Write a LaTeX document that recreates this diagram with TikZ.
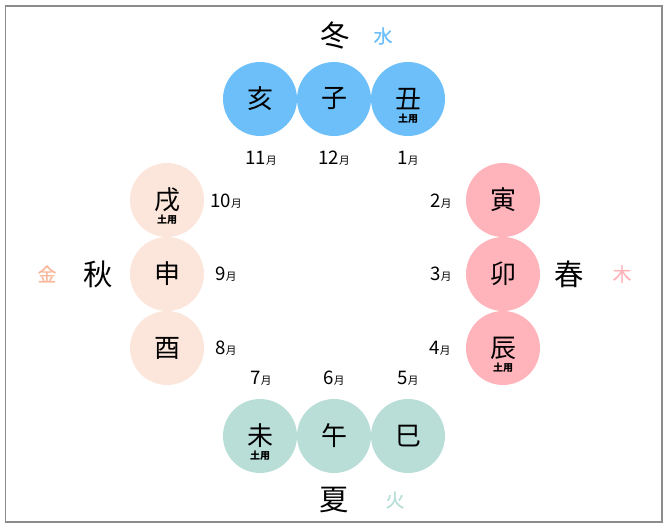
\documentclass[tikz,border=0pt]{standalone}
\usepackage{fontspec}
\newfontfamily\jp{Noto Sans CJK JP}
\newfontfamily\jpel[FakeBold=0.8]{Noto Sans CJK JP}
\definecolor{fuyucol}{HTML}{6CBFF9}
\definecolor{harucol}{HTML}{FFB3BA}
\definecolor{natsucol}{HTML}{B9DED8}
\definecolor{akicol}{HTML}{FCE5DA}
\definecolor{kincol}{HTML}{F9B79C}
\newcommand{\mon}[1]{#1{\fontsize{8pt}{8pt}\selectfont 月}}
\tikzset{
  eto/.style={circle,fill=#1,minimum size=55.5pt,inner sep=0pt,
    font=\jp\fontsize{19.5pt}{20pt}\selectfont},
  doyo/.style={font=\jp\bfseries\fontsize{7.5pt}{8pt}\selectfont,yshift=-14.5pt},
  month/.style={font=\jp\fontsize{14pt}{15pt}\selectfont},
  season/.style={font=\jp\fontsize{22pt}{23pt}\selectfont},
  elem/.style={text=#1,font=\jpel\fontsize{14pt}{15pt}\selectfont}
}
\begin{document}
\begin{tikzpicture}[x=0.75pt,y=-0.75pt]
  \useasboundingbox (0,0) rectangle (670,527);
  \draw[color=gray!90,line width=1.2pt] (5.5,6) rectangle (662,522);
  \draw
    (260,99) node[eto=fuyucol] (i){亥}
    (334,99) node[eto=fuyucol] (ne){子}
    (408,99) node[eto=fuyucol] (ushi){丑}
    (503,200) node[eto=harucol] (tora){寅}
    (503,274) node[eto=harucol] (u){卯}
    (503,348) node[eto=harucol] (tatsu){辰}
    (408,436) node[eto=natsucol] (mi){巳}
    (334,436) node[eto=natsucol] (uma){午}
    (260,436) node[eto=natsucol] (hitsuji){未}
    (167,348) node[eto=akicol] (tori){酉}
    (167,274) node[eto=akicol] (saru){申}
    (167,200) node[eto=akicol] (inu){戌};
  \node[doyo] at (ushi) {土用};
  \node[doyo] at (tatsu) {土用};
  \node[doyo] at (hitsuji) {土用};
  \node[doyo] at (inu) {土用};
  \draw
    (408,158) node[month] (m1){\mon{1}}
    (441,201) node[month] (m2){\mon{2}}
    (441,274) node[month] (m3){\mon{3}}
    (440,348) node[month] (m4){\mon{4}}
    (408,378) node[month] (m5){\mon{5}}
    (334,378) node[month] (m6){\mon{6}}
    (261,378) node[month] (m7){\mon{7}}
    (226,348) node[month] (m8){\mon{8}}
    (226,274) node[month] (m9){\mon{9}}
    (226,201) node[month] (m10){\mon{10}}
    (261,158) node[month] (m11){\mon{11}}
    (334,158) node[month] (m12){\mon{12}};
  \draw
    (335,35) node[season] (fuyu){冬}
    (569,274) node[season] (haru){春}
    (334,500) node[season] (natsu){夏}
    (98,274) node[season] (aki){秋}
    (383,36) node[elem=fuyucol] (sui){水}
    (622,274) node[elem=harucol] (moku){木}
    (395,500) node[elem=natsucol] (ka){火}
    (47,274) node[elem=kincol] (kin){金};
\end{tikzpicture}
\end{document}
